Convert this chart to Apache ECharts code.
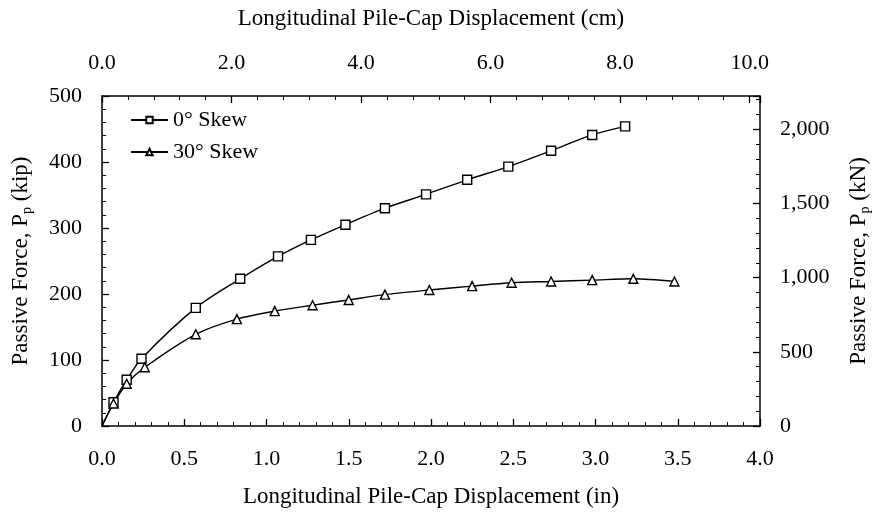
<!DOCTYPE html>
<html><head><meta charset="utf-8">
<script src="https://cdn.jsdelivr.net/npm/echarts@6/dist/echarts.min.js"></script>
<style>html,body{margin:0;padding:0;background:#fff}#c{width:877px;height:514px}</style>
</head><body><div id="c"></div>
<script>
const inches0 = [0, 0.07, 0.15, 0.24, 0.57, 0.84, 1.07, 1.27, 1.48, 1.72, 1.97, 2.22, 2.47, 2.73, 2.98, 3.18];
const kip0    = [0, 36, 70, 102, 179, 223, 257, 282, 305, 330, 351, 373, 393, 417, 441, 454];
const inches30 = [0, 0.07, 0.15, 0.26, 0.57, 0.82, 1.05, 1.28, 1.50, 1.72, 1.99, 2.25, 2.49, 2.73, 2.98, 3.23, 3.48];
const kip30    = [0, 34, 64, 89, 139, 162, 174, 183, 191, 199, 206, 212, 217, 219, 221, 223, 219];
const seriesNames = ['0° Skew', '30° Skew'];

const F = 'Liberation Serif, Times New Roman, serif';
const FS = 22;
const FN = 23;
const black = '#000';
function pts(xs, ys){ return xs.map((x,i)=> i===0 ? {value:[x,ys[i]], symbol:'none'} : [x,ys[i]]); }
const axisCommon = {
  axisLine:{show:true, onZero:false, lineStyle:{color:black, width:1.5}},
  axisTick:{show:true, inside:true, length:7, lineStyle:{color:black, width:1.3}},
  minorTick:{show:true, splitNumber:5, length:4, lineStyle:{color:black, width:1}},
  splitLine:{show:false},
  axisLabel:{color:black, fontFamily:F, fontSize:FS},
  nameTextStyle:{color:black, fontFamily:F, fontSize:FN},
  nameLocation:'middle'
};
const subRich = {s:{fontFamily:F, fontSize:14, padding:[12,0,0,0], color:black}};
const chart = echarts.init(document.getElementById('c'));
chart.setOption({
  animation:false,
  backgroundColor:'#fff',
  grid:{left:102, right:117, top:96, bottom:88, outerBoundsMode:'none', containLabel:false},
  legend:{
    orient:'vertical', left:125, top:104, itemGap:10, itemWidth:37, itemHeight:8,
    textStyle:{color:black, fontFamily:F, fontSize:FS},
    data: seriesNames
  },
  xAxis:[
    Object.assign({}, axisCommon, {type:'value', position:'bottom', min:0, max:4, interval:0.5,
      name:'Longitudinal Pile-Cap Displacement (in)', nameGap:59,
      axisLabel:Object.assign({}, axisCommon.axisLabel, {margin:22, formatter:v=>v.toFixed(1)})}),
    Object.assign({}, axisCommon, {type:'value', position:'top', min:0, max:10.16, interval:2,
      name:'Longitudinal Pile-Cap Displacement (cm)', nameGap:66,
      axisLabel:Object.assign({}, axisCommon.axisLabel, {margin:22, showMaxLabel:false, formatter:v=>v.toFixed(1)})})
  ],
  yAxis:[
    Object.assign({}, axisCommon, {type:'value', position:'left', min:0, max:500, interval:100,
      name:'Passive Force, P{s|p} (kip)', nameGap:68,
      nameTextStyle:{color:black, fontFamily:F, fontSize:FN, rich:subRich},
      axisLabel:Object.assign({}, axisCommon.axisLabel, {margin:20})}),
    Object.assign({}, axisCommon, {type:'value', position:'right', min:0, max:500*4.4482216, interval:500,
      name:'Passive Force, P{s|p} (kN)', nameGap:86, nameRotate:90,
      nameTextStyle:{color:black, fontFamily:F, fontSize:FN, rich:subRich},
      axisLabel:Object.assign({}, axisCommon.axisLabel, {margin:20, showMaxLabel:false,
        formatter:v=>v.toLocaleString('en-US')})})
  ],
  series:[
    {name:seriesNames[0], type:'line', xAxisIndex:0, yAxisIndex:0, data:pts(inches0,kip0), smooth:0.3,
     symbol:'rect', symbolSize:9, showAllSymbol:true,
     lineStyle:{color:black, width:1.4}, itemStyle:{color:'#fff', borderColor:black, borderWidth:1.4}},
    {name:seriesNames[1], type:'line', xAxisIndex:0, yAxisIndex:0, data:pts(inches30,kip30), smooth:0.3,
     symbol:'triangle', symbolSize:9, showAllSymbol:true,
     lineStyle:{color:black, width:1.4}, itemStyle:{color:'#fff', borderColor:black, borderWidth:1.4}}
  ]
});
</script></body></html>
